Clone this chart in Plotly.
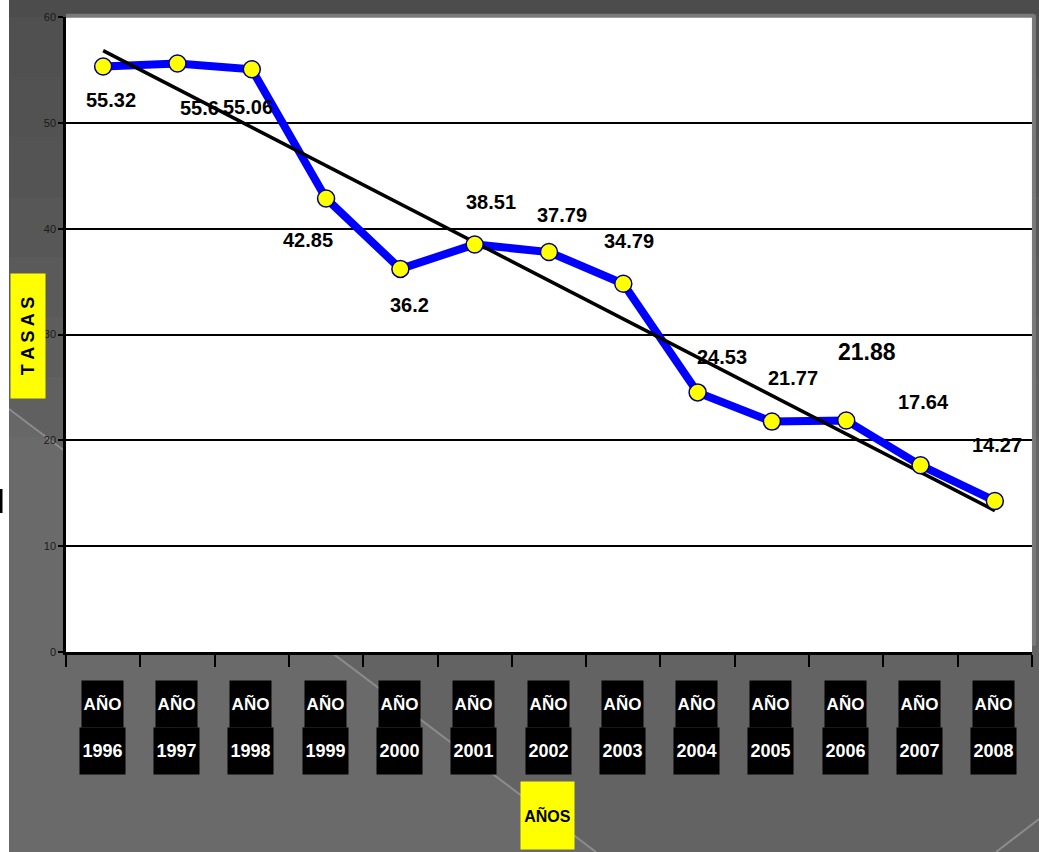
import numpy as np
import plotly.graph_objects as go

# ---- data ----
YEARS = ["1996", "1997", "1998", "1999", "2000", "2001", "2002",
         "2003", "2004", "2005", "2006", "2007", "2008"]
TASAS = [55.32, 55.6, 55.06, 42.85, 36.2, 38.51, 37.79,
         34.79, 24.53, 21.77, 21.88, 17.64, 14.27]
TICK_PREFIX = "AÑO"
Y_TICKS = [0, 10, 20, 30, 40, 50, 60]
X_TITLE = "AÑOS"
Y_TITLE = "T A S A S"

# ---- label placement (pixel offsets from each point: dx right, dy down) ----
LABEL_OFFSETS = [(8, 33), (22, 44), (-4, 38), (-18, 41), (9, 36), (16, -42), (13, -37),
                 (6, -43), (24, -35), (21, -44), (21, -68), (3, -63), (2, -56)]
LABEL_SIZES = [20, 20, 20, 20, 20, 20, 20, 20, 20, 20, 23, 20, 20]

W, H = 1039, 852
ML, MR, MT, MB = 66, 7, 17, 200
PW, PH = W - ML - MR, H - MT - MB
BOLDFONT = "Liberation Sans, Arial, sans-serif"


def xp(px):
    return (px - ML) / PW


def yp(py):
    return (H - MB - py) / PH


# trend line (least squares over the series)
idx = np.arange(len(TASAS))
slope, intercept = np.polyfit(idx, TASAS, 1)
trend = slope * idx + intercept

fig = go.Figure()
fig.add_trace(go.Scatter(x=YEARS, y=TASAS, mode="lines",
                         line=dict(color="#0000ff", width=8), hoverinfo="skip"))
fig.add_trace(go.Scatter(x=YEARS, y=trend, mode="lines",
                         line=dict(color="#000000", width=3.5), hoverinfo="skip"))
fig.add_trace(go.Scatter(x=YEARS, y=TASAS, mode="markers",
                         marker=dict(color="#ffff00", size=17,
                                     line=dict(color="#000080", width=1.5))))

shapes = []
# background
shapes.append(dict(type="rect", xref="paper", yref="paper", x0=xp(0), x1=xp(W), y0=yp(H), y1=yp(0),
                   fillcolor="#6a6a6a", line=dict(width=0), layer="below"))
poly = [(9, 0), (W, 0), (W, H), (596, H), (9, 410)]
path = "M " + " L ".join(f"{xp(a)},{yp(b)}" for a, b in poly) + " Z"
shapes.append(dict(type="path", xref="paper", yref="paper", path=path,
                   fillcolor="#636363", line=dict(width=0), layer="below"))
for k in range(1, 8):
    shapes.append(dict(type="rect", xref="paper", yref="paper", x0=xp(9), x1=xp(W),
                       y0=yp(17 + k * 60), y1=yp(17), fillcolor="rgba(0,0,0,0.025)",
                       line=dict(width=0), layer="below"))
shapes.append(dict(type="rect", xref="paper", yref="paper", x0=xp(9), x1=xp(W), y0=yp(17), y1=yp(0),
                   fillcolor="#4c4c4c", line=dict(width=0), layer="below"))
shapes.append(dict(type="line", xref="paper", yref="paper", x0=xp(9), y0=yp(409), x1=xp(596), y1=yp(H),
                   line=dict(color="#8c8c8c", width=2), layer="below"))
shapes.append(dict(type="line", xref="paper", yref="paper", x0=xp(996), y0=yp(H), x1=xp(W), y1=yp(819),
                   line=dict(color="#8c8c8c", width=2), layer="below"))
shapes.append(dict(type="rect", xref="paper", yref="paper", x0=xp(0), x1=xp(9), y0=yp(H), y1=yp(0),
                   fillcolor="#ffffff", line=dict(width=0), layer="below"))
shapes.append(dict(type="rect", xref="paper", yref="paper", x0=xp(0), x1=xp(2.5), y0=yp(513), y1=yp(489),
                   fillcolor="#000000", line=dict(width=0), layer="below"))
# plot area
shapes.append(dict(type="rect", xref="paper", yref="paper", x0=0, x1=1, y0=0, y1=1,
                   fillcolor="#ffffff", line=dict(width=0), layer="below"))
shapes.append(dict(type="line", xref="paper", yref="paper", x0=0, x1=1.002, y0=1.002, y1=1.002,
                   line=dict(color="#7a7a7a", width=4), layer="above"))
shapes.append(dict(type="line", xref="paper", yref="paper", x0=1.002, x1=1.002, y0=0.01, y1=1.004,
                   line=dict(color="#7a7a7a", width=4), layer="above"))

annotations = []
for i, (yr, v) in enumerate(zip(YEARS, TASAS)):
    dx, dy = LABEL_OFFSETS[i]
    annotations.append(dict(x=i, y=v, xref="x", yref="y", text=f"{v:g}", showarrow=False,
                            xanchor="center", yanchor="middle", xshift=dx, yshift=-dy,
                            font=dict(family=BOLDFONT, size=LABEL_SIZES[i], color="#000000", weight="bold")))
    annotations.append(dict(x=i, y=yp(704), xref="x", yref="paper", text=TICK_PREFIX, showarrow=False,
                            xanchor="center", yanchor="middle",
                            bgcolor="#000000", width=39, height=44, xshift=-1,
                            font=dict(family=BOLDFONT, size=17, color="#ffffff", weight="bold")))
    annotations.append(dict(x=i, y=yp(751), xref="x", yref="paper", text=yr, showarrow=False,
                            xanchor="center", yanchor="middle",
                            bgcolor="#000000", width=43, height=44, xshift=-1,
                            font=dict(family=BOLDFONT, size=18, color="#ffffff", weight="bold")))

annotations.append(dict(x=xp(547.5), y=yp(815.5), xref="paper", yref="paper", text=X_TITLE,
                        xanchor="center", yanchor="middle",
                        showarrow=False, bgcolor="#ffff00", width=51, height=65,
                        font=dict(family=BOLDFONT, size=16, color="#000000", weight="bold")))
annotations.append(dict(x=xp(28), y=yp(336), xref="paper", yref="paper", text=Y_TITLE,
                        xanchor="center", yanchor="middle",
                        showarrow=False, bgcolor="#ffff00", width=122, height=32, textangle=-90,
                        font=dict(family=BOLDFONT, size=18, color="#000000", weight="bold")))

fig.update_layout(
    width=W, height=H,
    margin=dict(l=ML, r=MR, t=MT, b=MB, pad=0),
    paper_bgcolor="#6a6a6a", plot_bgcolor="rgba(0,0,0,0)",
    showlegend=False,
    shapes=shapes, annotations=annotations,
    xaxis=dict(type="category", range=[-0.5, len(YEARS) - 0.5], showticklabels=False,
               ticks="outside", tickson="boundaries", ticklen=12, tickwidth=1.5, tickcolor="#000000",
               showline=True, linecolor="#000000", linewidth=2.5, showgrid=False, zeroline=False),
    yaxis=dict(range=[0, 60], tickvals=Y_TICKS, ticks="outside", ticklen=5, tickwidth=1.5,
               tickcolor="#000000", showline=True, linecolor="#000000", linewidth=2.5,
               showgrid=True, gridcolor="#000000", gridwidth=2, zeroline=False,
               tickfont=dict(family=BOLDFONT, size=11, color="#1a1a1a")),
)

fig.write_html("out.html", config={"displayModeBar": False},
               post_script="document.body.style.margin='0px';")
